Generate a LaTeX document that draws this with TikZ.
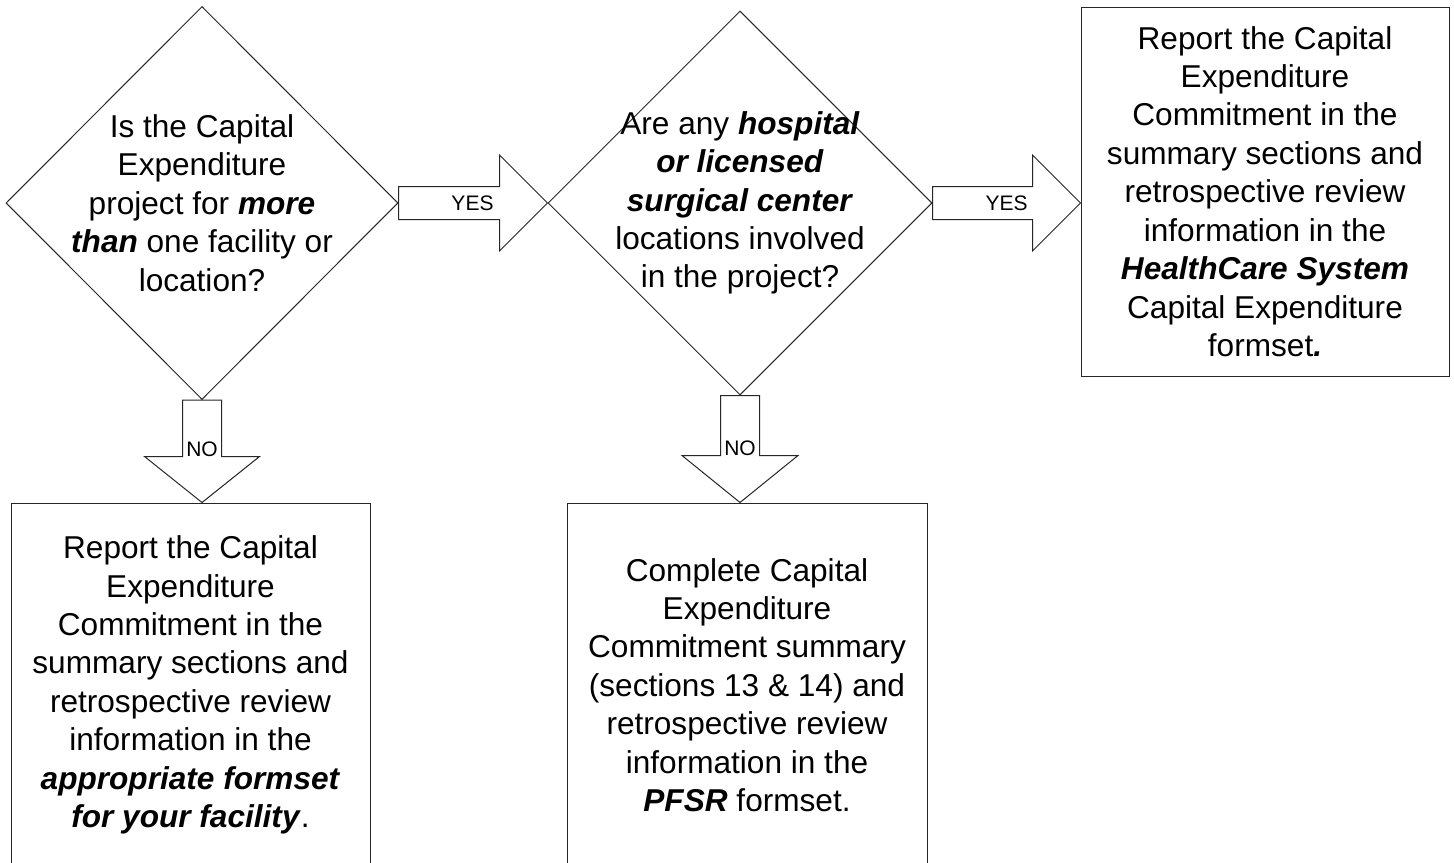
\documentclass[tikz,border=0pt]{standalone}
\usepackage{fontspec}
\setmainfont{Liberation Sans}
\usetikzlibrary{shapes.geometric,calc}
\newcommand{\bi}[1]{\textbf{\textit{#1}}}
\begin{document}
\begin{tikzpicture}[x=0.5pt,y=-0.5pt]
				\tikzstyle{Decision} = [diamond, draw=black!85, line width=0.5pt, minimum width=196pt, minimum height=196.5pt, inner sep=0pt]
				\tikzstyle{Ask} = [align=center, inner sep=0pt, font=\fontsize{15.8}{19.2}\selectfont]
				\tikzstyle{Report} = [rectangle, draw=black!85, line width=0.5pt, fill=white, align=center, inner sep=0pt, font=\fontsize{15.8}{19.2}\selectfont]
				\tikzstyle{Block} = [draw=black!85, line width=0.5pt, fill=white, line join=miter]
				\tikzstyle{Answer} = [inner sep=0pt, font=\fontsize{10.5}{12}\selectfont]
				\clip (0,0) rectangle (1454,862);
				\node (q1) at (202,203) [Decision] {};
				\node (q2) at (740,203) [Decision, minimum width=192pt, minimum height=192pt] {};
				\node (q1text) at (q1) [Ask] {Is the Capital\\Expenditure\\project for \bi{more}\\\bi{than} one facility or\\location?};
				\node (q2text) at (q2) [Ask] {Are any \bi{hospital}\\\bi{or licensed}\\\bi{surgical center}\\locations involved\\in the project?};
				\node (hcs) at (1265,191.5) [Report, minimum width=184pt, minimum height=184.5pt] {Report the Capital\\Expenditure\\Commitment in the\\summary sections and\\retrospective review\\information in the\\\bi{HealthCare System}\\Capital Expenditure\\formset\textbf{\textit{.}}};
				\node (own) at (190.5,685) [Report, minimum width=179.5pt, minimum height=182pt] {Report the Capital\\Expenditure\\Commitment in the\\summary sections and\\retrospective review\\information in the\\\bi{appropriate formset}\\\bi{for your facility}.};
				\node (pfsr) at (747,685) [Report, minimum width=180pt, minimum height=182pt] {Complete Capital\\Expenditure\\Commitment summary\\(sections 13 \& 14) and\\retrospective review\\information in the\\\bi{PFSR} formset.};
				\coordinate (t1) at (q1.south |- own.north);
				\coordinate (t2) at (q2.south |- pfsr.north);
				\coordinate (t3) at (hcs.west |- q2.east);
				% yes arrows
				\draw [Block] ($(q1.east)+(0,-16.5)$) -- ($(q2.west)+(-48,-16.5)$) -- ($(q2.west)+(-48,-48)$) -- (q2.west) -- ($(q2.west)+(-48,48)$) -- ($(q2.west)+(-48,16.5)$) -- ($(q1.east)+(0,16.5)$) -- cycle;
				\draw [Block] ($(q2.east)+(0,-16.5)$) -- ($(t3)+(-48,-16.5)$) -- ($(t3)+(-48,-48)$) -- (t3) -- ($(t3)+(-48,48)$) -- ($(t3)+(-48,16.5)$) -- ($(q2.east)+(0,16.5)$) -- cycle;
				% no arrows
				\draw [Block] ($(q1.south)+(-19.5,0)$) -- ($(t1)+(-19.5,-46)$) -- ($(t1)+(-57.5,-46)$) -- (t1) -- ($(t1)+(57.5,-46)$) -- ($(t1)+(19.5,-46)$) -- ($(q1.south)+(19.5,0)$) -- cycle;
				\draw [Block] ($(q2.south)+(-19.5,0)$) -- ($(t2)+(-19.5,-47)$) -- ($(t2)+(-58,-47)$) -- (t2) -- ($(t2)+(58,-47)$) -- ($(t2)+(19.5,-47)$) -- ($(q2.south)+(19.5,0)$) -- cycle;
				\node (yes1) at ($(q2.west)+(-75,0)$) [Answer] {YES};
				\node (yes2) at ($(t3)+(-74,0)$) [Answer] {YES};
				\node (no1) at ($(t1)+(0,-53)$) [Answer] {NO};
				\node (no2) at ($(t2)+(0,-54)$) [Answer] {NO};
			\end{tikzpicture}
\end{document}
